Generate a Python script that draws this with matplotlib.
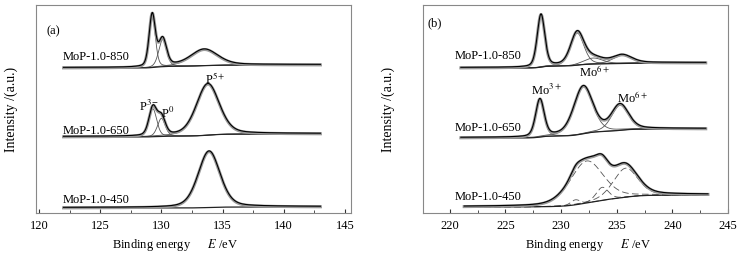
import numpy as np
import matplotlib
matplotlib.use("Agg")
import matplotlib.pyplot as plt
from matplotlib.ticker import MultipleLocator

plt.rcParams['font.family'] = ['Liberation Serif', 'DejaVu Serif']
plt.rcParams['mathtext.fontset'] = 'stix'

# ---------------- data ----------------
# Panel (a): P 2p.  Each sample: energy range, background levels at both ends,
# and fitted peak components (centre eV, height, FWHM eV).
a_samples = ["MoP-1.0-850", "MoP-1.0-650", "MoP-1.0-450"]
a_range = [(122.0, 143.0), (122.0, 143.0), (122.0, 143.0)]
a_bg_left = [145.0, 76.0, 5.0]
a_bg_right = [148.0, 79.0, 6.0]
a_centers = [[129.25, 130.1, 133.5], [129.3, 130.0, 133.8], [133.9]]
a_heights = [[52.0, 27.0, 16.0], [28.0, 18.0, 51.0], [56.0]]
a_fwhm = [[0.6, 0.75, 2.6], [0.75, 0.75, 2.2], [2.1]]

# Panel (b): Mo 3d
b_samples = ["MoP-1.0-850", "MoP-1.0-650", "MoP-1.0-450"]
b_range = [(221.0, 243.0), (221.0, 243.0), (221.3, 243.2)]
b_bg_left = [145.0, 75.0, 6.0]
b_bg_right = [150.0, 84.0, 18.0]
b_centers = [[228.2, 231.45, 232.9, 235.5],
             [228.1, 232.0, 235.3],
             [231.3, 232.3, 233.7, 235.8]]
b_heights = [[52.0, 32.0, 6.0, 8.0],
             [37.0, 47.0, 25.0],
             [5.0, 42.0, 13.0, 29.0]]
b_fwhm = [[0.8, 1.4, 2.0, 2.0],
          [0.9, 2.0, 1.8],
          [1.0, 3.5, 1.3, 2.6]]
b_dashed = [False, False, True]

# label positions
a_label_y = [156, 82, 13]
b_label_y = [157, 85, 16]


def pv(x, c, h, w, eta=0.3):
    g = np.exp(-4 * np.log(2) * ((x - c) / w) ** 2)
    l = 1.0 / (1.0 + (2 * (x - c) / w) ** 2)
    return h * ((1 - eta) * g + eta * l)


def draw(ax, rng, bl, br, cs, hs, ws, dashed=False):
    x = np.linspace(rng[0], rng[1], 900)
    comps = [pv(x, c, h, w) for c, h, w in zip(cs, hs, ws)]
    tot = np.sum(comps, axis=0)
    # Shirley-type background: step proportional to integrated peak area
    cum = np.cumsum(tot)
    bg = bl + (br - bl) * cum / cum[-1]
    env = bg + tot
    ls = (0, (8, 4)) if dashed else '-'
    for cp in comps:
        ax.plot(x, bg + cp, color='#555555', lw=0.6, ls=ls)
    ax.plot(x, bg, color='#222222', lw=0.9)
    ax.plot(x, env, color='#999999', lw=2.2)
    ax.plot(x, env + 0.6, color='black', lw=0.8)


fig = plt.figure(figsize=(7.53, 2.54), dpi=100)
axa = fig.add_axes([36 / 753, 1 - 213 / 254, (351 - 36) / 753, (213 - 5) / 254])
axb = fig.add_axes([423 / 753, 1 - 213 / 254, (728 - 423) / 753, (213 - 5) / 254])

FS = 9
for i in range(3):
    draw(axa, a_range[i], a_bg_left[i], a_bg_right[i], a_centers[i], a_heights[i], a_fwhm[i])
    axa.text(121.9, a_label_y[i], a_samples[i], fontsize=FS, va='center', ha='left')
    draw(axb, b_range[i], b_bg_left[i], b_bg_right[i], b_centers[i], b_heights[i], b_fwhm[i], b_dashed[i])
    axb.text(220.45, b_label_y[i], b_samples[i], fontsize=FS, va='center', ha='left')

axa.text(120.6, 182, '(a)', fontsize=FS, va='center')
axa.text(128.2, 107, r'P$^{3-}$', fontsize=FS, va='center')
axa.text(130.0, 100, r'P$^{0}$', fontsize=FS, va='center')
axa.text(133.6, 134, r'P$^{5+}$', fontsize=FS, va='center')

axb.text(218.0, 190, '(b)', fontsize=FS, va='center')
axb.text(227.3, 123, r'Mo$^{3+}$', fontsize=FS, va='center')
axb.text(231.6, 141, r'Mo$^{6+}$', fontsize=FS, va='center')
axb.text(235.0, 115, r'Mo$^{6+}$', fontsize=FS, va='center')

for ax, xl, lp, xc in ((axa, (119.75, 145.5), 13, 0.44), (axb, (217.6, 245.0), 20, 0.54)):
    ax.set_xlim(*xl)
    ax.set_ylim(0, 208)
    ax.set_yticks([])
    ax.xaxis.set_major_locator(MultipleLocator(5))
    ax.xaxis.set_minor_locator(MultipleLocator(2.5))
    ax.tick_params(axis='x', which='both', direction='in', labelsize=FS, pad=5,
                   colors='#333333', labelcolor='black')
    ax.tick_params(axis='x', which='major', length=3)
    ax.tick_params(axis='x', which='minor', length=2)
    for s in ax.spines.values():
        s.set_color('#888888')
        s.set_linewidth(0.8)
    ax.set_xlabel(r'Binding energy$\qquad E$ /eV', fontsize=FS)
    ax.xaxis.set_label_coords(xc, -0.115)
    ax.set_ylabel('Intensity /(a.u.)', fontsize=10, labelpad=lp)

fig.savefig('out.png', dpi=100)
